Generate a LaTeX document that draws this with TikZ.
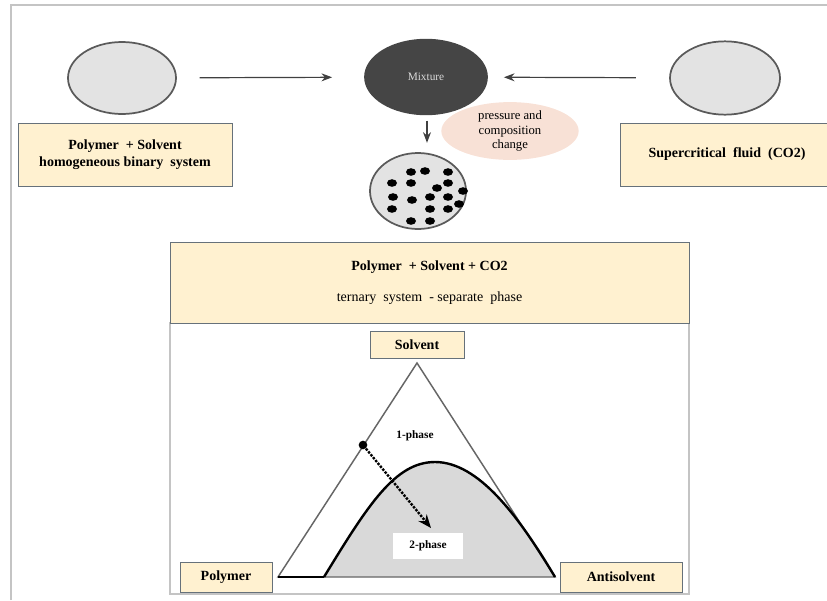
\documentclass[tikz,border=0pt]{standalone}
\usepackage{fontspec}
\setmainfont{Liberation Serif}
\usepackage{xcolor}
\usetikzlibrary{positioning,shapes.geometric,arrows.meta}

\definecolor{boxfill}{HTML}{FFF1D0}
\definecolor{boxline}{HTML}{66717A}
\definecolor{blobfill}{HTML}{E3E3E3}
\definecolor{blobline}{HTML}{5A5A5A}
\definecolor{mixfill}{HTML}{454545}
\definecolor{peach}{HTML}{F8E1D6}
\definecolor{framegray}{HTML}{C4C4C4}
\definecolor{twophase}{HTML}{D9D9D9}

\tikzset{
    labelbox/.style={rectangle, draw=boxline, fill=boxfill, font=\bfseries\fontsize{10.5}{13}\selectfont, align=center, inner sep=0pt},
    blob/.style={ellipse, draw=blobline, line width=1.3pt, fill=blobfill, inner sep=0pt, minimum width=81pt, minimum height=54pt},
    flow/.style={-{Stealth[length=8pt,width=6pt]}, line width=0.9pt, draw=black!75}
}

\begin{document}
\begin{tikzpicture}[x=0.75pt, y=-0.75pt]
            \useasboundingbox (0,0) rectangle (827,600);
            \draw [framegray, line width=1pt] (11,600) -- (11,5) -- (827,5);

            % top row
            \node [blob] (binary) at (122,78) {};
            \node [blob, fill=mixfill, draw=mixfill, minimum width=91.5pt, minimum height=56pt,
                   text=white!85!black, font=\fontsize{8.5}{10}\selectfont] (mix) at (426,77) {Mixture};
            \node [blob, minimum width=82.5pt, minimum height=55pt] (fluid) at (725,78) {};

            \node [labelbox, minimum width=160.5pt, minimum height=47pt] (binbox) at (125,154.5)
                {Polymer \ + Solvent\\homogeneous binary \ system};
            \node [labelbox, minimum width=160.5pt, minimum height=47pt] (fluidbox) at (727,154.5)
                {Supercritical \ fluid \ (CO2)};

            \node [ellipse, fill=peach, inner sep=0pt, minimum width=103pt, minimum height=39pt, align=center,
                   font=\fontsize{9.5}{11}\selectfont] (change) at (510,131) {pressure and\\composition\\change};

            \node [blob, minimum width=72pt, minimum height=57pt] (disc) at (418,191) {};
            \foreach \dx/\dy in {411/172, 425/171, 448/172, 392/183, 411/183, 448/183, 437/188, 463/191, 393/197,
                                 412/200, 430/197, 448/197, 459/204, 392/209, 430/209, 448/209, 411/221, 430/221}
                \fill (\dx,\dy) ellipse (5 and 3.8);

            \draw [flow, shorten <=17pt, shorten >=24pt] (binary) -- (mix);
            \draw [flow, shorten <=25pt, shorten >=12pt] (fluid) -- (mix);
            \draw [flow, shorten <=4pt, shorten >=7pt] ([xshift=0.75pt]mix.south) -- ([xshift=0.75pt]mix.south |- disc.north);

            % ternary system
            \draw [framegray, line width=1pt, fill=white] (170,323) rectangle (689,594);
            \node [labelbox, minimum width=389pt, minimum height=61pt] (ternary) at (429.5,282.5)
                {Polymer \ + Solvent + CO2\\[10pt]{\normalfont ternary \ system \ - separate \ phase}};

            \coordinate (top) at (417,363);
            \coordinate (left) at (278,577);
            \coordinate (right) at (555,577);
            \coordinate (base) at (324,577);

            \fill [twophase] (base) .. controls (368,505) and (395,462) .. (435,462)
                .. controls (478,462) and (518,515) .. (right) -- cycle;
            \draw [black!60, line width=1.1pt] (left) -- (top) -- (right) -- cycle;
            \draw [black, line width=1.8pt] (base) .. controls (368,505) and (395,462) .. (435,462)
                .. controls (478,462) and (518,515) .. (right);
            \draw [black, line width=1.1pt] (left) -- (base);

            \node [labelbox, minimum width=70.5pt, minimum height=20pt] (solvent) at (417,344.5) {Solvent};
            \node [labelbox, minimum width=69pt, minimum height=22.5pt] (polymer) at (226,577) {Polymer};
            \node [labelbox, minimum width=91.5pt, minimum height=22.5pt] (anti) at (621,577) {Antisolvent};

            \node [font=\bfseries\fontsize{8.5}{10}\selectfont] (one) at (415,436) {1-phase};
            \node [fill=white, inner sep=0pt, minimum width=53pt, minimum height=19pt,
                   font=\bfseries\fontsize{8.5}{10}\selectfont] (two) at (428,546) {2-phase};

            \node [circle, fill=black, inner sep=0pt, minimum size=6.5pt] (start) at (363,445) {};
            \coordinate (end) at (431,528);
            \draw [-{Stealth[length=10pt,width=8pt]}, densely dotted, line width=1.8pt] (start) -- (end);
        \end{tikzpicture}
\end{document}
